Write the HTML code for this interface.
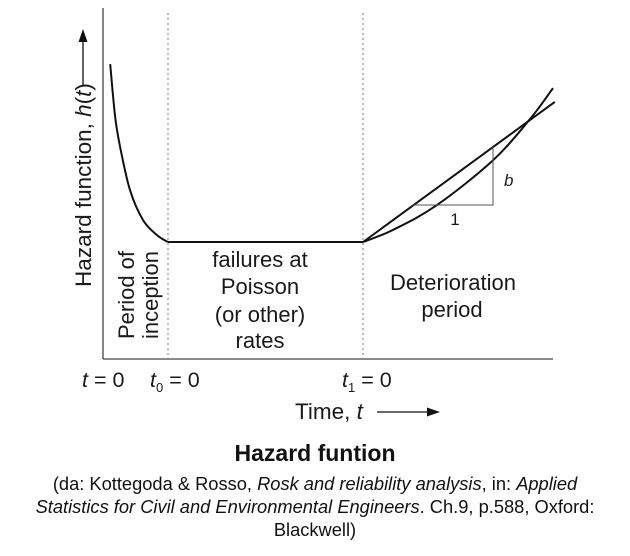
<!DOCTYPE html>
<html><head><meta charset="utf-8"><style>
body{margin:0;background:#fff;width:630px;height:556px;overflow:hidden;font-family:"Liberation Sans",sans-serif}
svg text{font-family:"Liberation Sans",sans-serif;fill:#1a1a1a}
.cap{position:absolute;left:0;width:630px;text-align:center;color:#111;white-space:nowrap}
</style></head><body>
<svg id="chart" width="630" height="430" style="position:absolute;left:0;top:0">
<g id="axes">
<line x1="103" y1="8" x2="103" y2="359" stroke="#444" stroke-width="1.3"/>
<line x1="103" y1="359" x2="553" y2="359" stroke="#444" stroke-width="1.3"/>
<line x1="168" y1="13" x2="168" y2="359" stroke="#777" stroke-dasharray="2,3"/>
<line x1="363" y1="13" x2="363" y2="359" stroke="#777" stroke-dasharray="2,3"/>
</g>
<g>
<text transform="translate(91,185) rotate(-90)" text-anchor="middle" font-size="22.5">Hazard function, <tspan font-style="italic">h</tspan>(<tspan font-style="italic">t</tspan>)</text>
<line x1="83" y1="85" x2="83" y2="40" stroke="#111" stroke-width="1.3"/>
<polygon points="83,29 78.5,42 87.5,42" fill="#111"/>
</g>
<g id="marks"></g>
<g>
<polyline points="413,205 493,205 493,147" fill="none" stroke="#555" stroke-width="1"/>
<text x="504" y="186" font-size="17" font-style="italic">b</text>
<text x="455" y="225" font-size="17" text-anchor="middle">1</text>
</g>
<g font-size="22" text-anchor="middle">
<text transform="translate(134,295) rotate(-90)">Period of</text>
<text transform="translate(158,295) rotate(-90)">inception</text>
<text x="260" y="267">failures at</text>
<text x="260" y="294">Poisson</text>
<text x="260" y="322">(or other)</text>
<text x="260" y="348">rates</text>
<text x="453" y="290">Deterioration</text>
<text x="452" y="317">period</text>
</g>
<g font-size="21.5">
<text x="82" y="387"><tspan font-style="italic">t</tspan> = 0</text>
<text x="150" y="387"><tspan font-style="italic">t</tspan><tspan font-size="13" dy="5">0</tspan><tspan dy="-5"> = 0</tspan></text>
<text x="342" y="387"><tspan font-style="italic">t</tspan><tspan font-size="13" dy="5">1</tspan><tspan dy="-5"> = 0</tspan></text>
</g>
<g>
<text x="295" y="419" font-size="22.5">Time, <tspan font-style="italic">t</tspan></text>
<line x1="377" y1="412" x2="428" y2="412" stroke="#111" stroke-width="1.3"/>
<polygon points="440,412 427,407.5 427,416.5" fill="#111"/>
</g>
</svg>
<div class="cap" style="top:439px;font-size:23px;line-height:28px;font-weight:bold">Hazard funtion</div>
<div class="cap" style="top:472px;font-size:18.3px;line-height:23px">(da: Kottegoda &amp; Rosso, <i>Rosk and reliability analysis</i>, in: <i>Applied</i><br><i>Statistics for Civil and Environmental Engineers</i>. Ch.9, p.588, Oxford:<br>Blackwell)</div>
<script>
const burnInT=[1.6,2.7,3.8,6,8.9,12,14.4];
const burnInH=[98.3,80.7,70.7,56.3,46.3,41.3,39];
const flatT=[14.4,57.8];
const flatH=[39,39];
const wearOutT=[57.8,64.4,74.2,86.7,94.9,100];
const wearOutH=[39,43,51.3,66.3,80,90.3];
const linearT=[57.8,100.4];
const linearH=[39,85.7];
function xs(t){return 103+t*4.5;}
function ys(h){return 359-h*3;}
function smooth(T,H){
  const p=T.map((t,i)=>[xs(t),ys(H[i])]);
  let d='M'+p[0][0]+','+p[0][1];
  for(let i=0;i<p.length-1;i++){
    const p0=p[i-1]||p[i],p1=p[i],p2=p[i+1],p3=p[i+2]||p2;
    const c1=[p1[0]+(p2[0]-p0[0])/6,p1[1]+(p2[1]-p0[1])/6];
    const c2=[p2[0]-(p3[0]-p1[0])/6,p2[1]-(p3[1]-p1[1])/6];
    d+=' C'+c1+' '+c2+' '+p2;
  }
  return d;
}
const g=document.getElementById('marks');
const NS='http://www.w3.org/2000/svg';
[['burn-in-curve',burnInT,burnInH],['constant-rate-line',flatT,flatH],['wear-out-curve',wearOutT,wearOutH],['linear-wear-out-line',linearT,linearH]].forEach(s=>{
  const el=document.createElementNS(NS,'path');
  el.setAttribute('d',smooth(s[1],s[2]));
  el.setAttribute('fill','none');
  el.setAttribute('stroke','#111');
  el.setAttribute('stroke-width','2');
  
  
  g.appendChild(el);
});
</script>
</body></html>
